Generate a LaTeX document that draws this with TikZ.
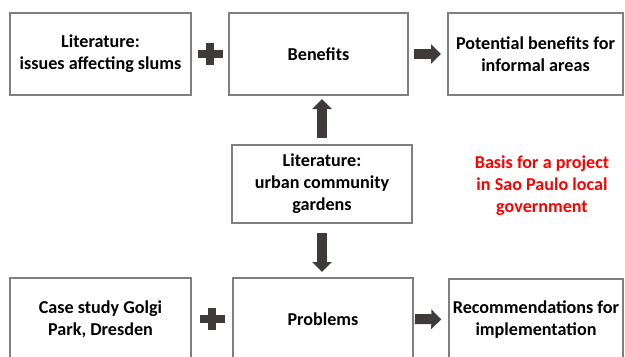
\documentclass[tikz,border=0pt]{standalone}
\usepackage{fontspec}
\setmainfont{Carlito}
\usetikzlibrary{arrows.meta}
\usetikzlibrary{calc}
\definecolor{boxGray}{HTML}{7F7F7F}
\definecolor{arrowGray}{HTML}{3F3B3B}
\definecolor{basisRed}{HTML}{FF0000}
\newcommand{\boxfont}{\fontsize{13.6}{16.4}\selectfont\bfseries}
\tikzset{
  box/.style={draw=boxGray, line width=1.5pt, fill=white, align=center,
    inner sep=0pt, minimum height=61.5pt, font=\boxfont},
  blockArrow/.style={draw=arrowGray, line width=7.5pt,
    -{Triangle[width=14.25pt, length=7.5pt]}},
}

\begin{document}
\begin{tikzpicture}[x=0.75pt, y=-0.75pt]
    \clip (0,0) rectangle (625,357);

    % top row
    \node[box, minimum width=135.75pt] (litSlums) at (100.5,54) {Literature:\\issues affecting slums};
    \node[box, minimum width=134.25pt] (benefits) at (318.5,54) {Benefits};
    \node[box, minimum width=131.25pt] (potential) at (535.5,54) {Potential benefits for\\informal areas};

    % middle
    \node[box, minimum width=135pt, minimum height=58.5pt] (litGardens) at (322,184) {Literature:\\urban community\\gardens};
    \node[text=basisRed, font=\boxfont, align=center, inner sep=0pt] (basis) at (542,186) {Basis for a project\\in Sao Paulo local\\government};

    % bottom row
    \node[box, minimum width=135.75pt] (caseStudy) at (100.5,319) {Case study Golgi\\Park, Dresden};
    \node[box, minimum width=135pt] (problems) at (323,319) {Problems};
    \node[box, minimum width=130.5pt] (recommend) at (536,319.5) {Recommendations for\\implementation};

    % arrows
    \draw[blockArrow, shorten <=3.75pt, shorten >=4.5pt] (benefits.east) -- (potential.west);
    \draw[blockArrow, shorten <=4.5pt, shorten >=2.25pt] (litGardens.north) -- (litGardens.north |- benefits.south);
    \draw[blockArrow, shorten <=6.75pt, shorten >=3.75pt] (litGardens.south) -- (litGardens.south |- problems.north);
    \draw[blockArrow, shorten <=0.75pt, shorten >=5pt] (problems.east) -- (recommend.west);

    % plus signs
    \foreach \a/\b in {litSlums/benefits, caseStudy/problems} {
      \coordinate (p) at ($(\a.east)!0.5!(\b.west)$);
      \fill[arrowGray] ($(p)+(-12.5,-4)$) rectangle ($(p)+(12.5,4)$);
      \fill[arrowGray] ($(p)+(-4,-11)$) rectangle ($(p)+(4,11)$);
    }
\end{tikzpicture}
\end{document}
